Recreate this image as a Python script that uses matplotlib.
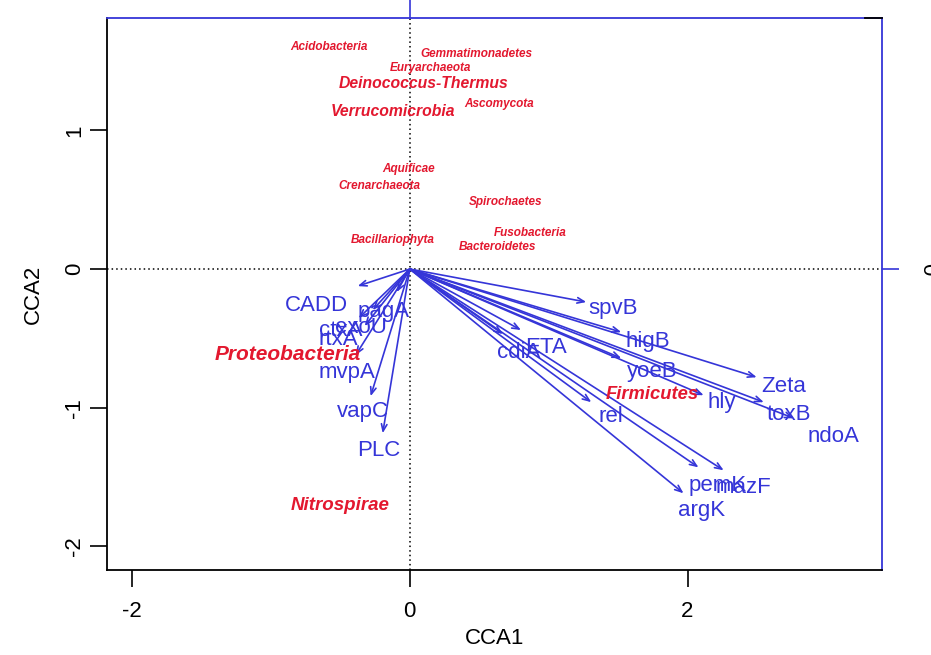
import matplotlib
matplotlib.use("Agg")
import matplotlib.pyplot as plt

# CCA biplot: phyla (red text) and genes (blue arrows)
phyla = ["Acidobacteria", "Gemmatimonadetes", "Euryarchaeota", "Deinococcus-Thermus",
         "Verrucomicrobia", "Ascomycota", "Aquificae", "Crenarchaeota", "Spirochaetes",
         "Fusobacteria", "Bacteroidetes", "Bacillariophyta", "Proteobacteria",
         "Firmicutes", "Nitrospirae"]
phyla_x = [-0.585, 0.477, 0.152, 0.101, -0.123, 0.643, -0.007, -0.217, 0.693,
           0.866, 0.635, -0.123, -0.881, 1.747, -0.505]
phyla_y = [1.603, 1.552, 1.451, 1.336, 1.134, 1.191, 0.722, 0.599, 0.484,
           0.260, 0.159, 0.209, -0.614, -0.903, -1.704]

genes = ["CADD", "pagA", "exoU", "ctxA", "rtxA", "mvpA", "vapC", "PLC",
         "spvB", "higB", "ETA", "cdiA", "yoeB", "hly", "Zeta", "toxB", "ndoA",
         "rel", "pemK", "mazF", "argK"]
arrow_x = [-0.375, -0.094, -0.267, -0.368, -0.325, -0.390, -0.282, -0.195,
           1.271, 1.523, 0.801, 0.671, 1.523, 2.116, 2.498, 2.549, 2.765,
           1.307, 2.079, 2.260, 1.971]
arrow_y = [-0.123, -0.166, -0.296, -0.354, -0.411, -0.621, -0.917, -1.184,
           -0.238, -0.455, -0.440, -0.469, -0.643, -0.910, -0.780, -0.960, -1.076,
           -0.960, -1.430, -1.451, -1.617]
label_x = [-0.671, -0.188, -0.354, -0.498, -0.513, -0.455, -0.339, -0.224,
           1.466, 1.713, 0.982, 0.787, 1.748, 2.245, 2.693, 2.729, 3.054,
           1.451, 2.217, 2.404, 2.101]
label_y = [-0.260, -0.303, -0.419, -0.440, -0.505, -0.744, -1.025, -1.307,
           -0.282, -0.520, -0.563, -0.599, -0.736, -0.960, -0.845, -1.047, -1.206,
           -1.061, -1.560, -1.574, -1.740]

# text size per phylum label (pt)
phyla_size = [8.5, 8.5, 8.5, 11.3, 11.3, 8.5, 8.5, 8.5, 8.5, 8.5, 8.5, 8.5,
              15, 13.2, 13.5]

blue = "#3535d8"
red = "#e3182f"
plt.rcParams["font.family"] = ["Liberation Sans", "DejaVu Sans"]
plt.rcParams["axes.unicode_minus"] = False

fig = plt.figure(figsize=(9.31, 6.55), dpi=100)
ax = fig.add_axes([107 / 931, 1 - 570 / 655, 775 / 931, 552 / 655])
ax.set_xlim(-2.18, 3.40)
ax.set_ylim(-2.17, 1.81)

ax.axhline(0, color="black", lw=1.1, ls=(0, (1, 2)), zorder=1)
ax.axvline(0, color="black", lw=1.1, ls=(0, (1, 2)), zorder=1)

for g, ax_, ay_, lx, ly in zip(genes, arrow_x, arrow_y, label_x, label_y):
    ax.annotate("", xy=(ax_, ay_), xytext=(0, 0),
                arrowprops=dict(arrowstyle="->,head_length=0.5,head_width=0.2",
                                color=blue, lw=1.2, shrinkA=0, shrinkB=0))
    ax.text(lx, ly, g, color=blue, fontsize=16, ha="center", va="center")

for p, px, py, s in zip(phyla, phyla_x, phyla_y, phyla_size):
    ax.text(px, py, p, color=red, fontsize=s, fontweight="bold",
            fontstyle="italic", ha="center", va="center")

ax.set_xticks([-2, 0, 2])
ax.set_yticks([-2, -1, 0, 1])
ax.tick_params(length=12, width=1.2, labelsize=16, pad=10)
ax.tick_params(axis="y", pad=4)
for lab in ax.get_yticklabels():
    lab.set_rotation(90)
    lab.set_va("center")
ax.set_xlabel("CCA1", fontsize=16, labelpad=5)
ax.set_ylabel("CCA2", fontsize=16, labelpad=14)

for side in ["left", "bottom"]:
    ax.spines[side].set_color("black")
    ax.spines[side].set_linewidth(1.3)
ax.spines["top"].set_color(blue)
ax.spines["right"].set_color(blue)
ax.spines["top"].set_linewidth(1.3)
ax.spines["right"].set_linewidth(1.3)
ax.plot([0.978, 1.0], [1.0, 1.0], transform=ax.transAxes, color="black",
        lw=1.3, clip_on=False, zorder=5)

top = ax.secondary_xaxis("top")
top.set_xticks([0])
top.tick_params(colors=blue, length=14, width=1.2, labeltop=False)
top.spines["top"].set_visible(False)
right = ax.secondary_yaxis("right")
right.set_yticks([0])
right.tick_params(color=blue, length=12, width=1.2, labelsize=16, pad=13)
right.spines["right"].set_visible(False)
for lab in right.get_yticklabels():
    lab.set_rotation(270)
    lab.set_va("center")

fig.savefig("out.png", dpi=100)
